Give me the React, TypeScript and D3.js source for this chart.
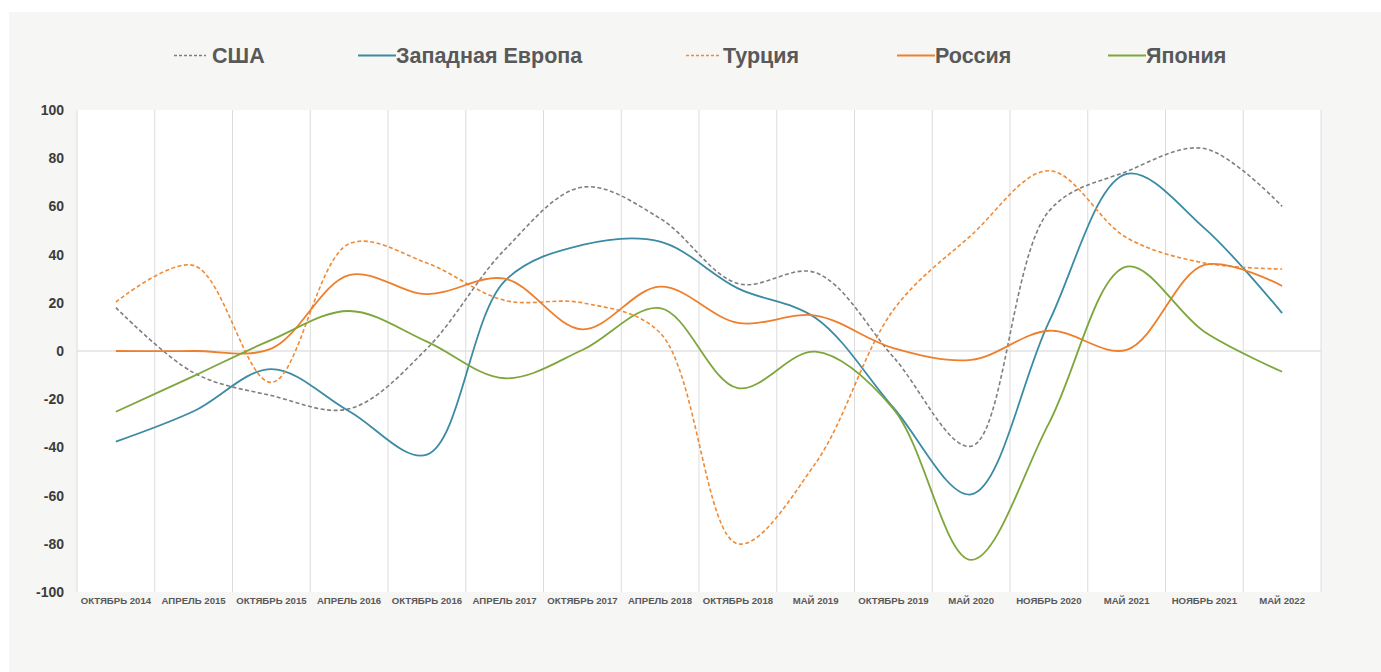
import React from "react";
import * as d3 from "d3";

const categories = [
  "ОКТЯБРЬ 2014", "АПРЕЛЬ 2015", "ОКТЯБРЬ  2015", "АПРЕЛЬ 2016", "ОКТЯБРЬ 2016",
  "АПРЕЛЬ 2017", "ОКТЯБРЬ 2017", "АПРЕЛЬ 2018", "ОКТЯБРЬ 2018", "МАЙ 2019",
  "ОКТЯБРЬ 2019", "МАЙ 2020", "НОЯБРЬ 2020", "МАЙ 2021", "НОЯБРЬ 2021", "МАЙ 2022",
];

const usa = [18, -9, -18.5, -24, 1, 42, 68, 55, 28, 32.5, -2.5, -39.5, 58, 74.5, 84, 60];
const westEurope = [-37.6, -25, -7.5, -25, -43, 29, 44, 45.4, 26, 13.7, -23.5, -59.5, 12, 73.5, 51, 15.7];
const turkey = [20.3, 35.5, -13, 44.5, 36.5, 21, 20, 7.5, -80, -46.5, 17, 48, 74.8, 47, 36.5, 34];
const russia = [0, 0, 1, 31.5, 23.6, 30, 9, 26.7, 11.7, 14.7, 1.2, -3.7, 8.4, 0.5, 35.7, 27];
const japan = [-25.2, -10.4, 4.6, 16.6, 3.9, -11.3, 0.4, 17.8, -15.4, -0.3, -24, -86.7, -30, 35, 8, -8.6];

const yTicks = [100, 80, 60, 40, 20, 0, -20, -40, -60, -80, -100];

const seriesNames = ["США", "Западная Европа", "Турция", "Россия", "Япония"];

const series = [
  { name: seriesNames[0], values: usa, color: "#7f7f7f", dash: "4,2.5", width: 1.6 },
  { name: seriesNames[1], values: westEurope, color: "#3a8ba3", dash: null, width: 1.8 },
  { name: seriesNames[2], values: turkey, color: "#f08a34", dash: "4,2.5", width: 1.6 },
  { name: seriesNames[3], values: russia, color: "#ee7f2d", dash: null, width: 1.8 },
  { name: seriesNames[4], values: japan, color: "#7ea63c", dash: null, width: 1.8 },
];

const legendPos = [
  { lx0: 174, lx1: 206, tx: 212 },
  { lx0: 358, lx1: 396, tx: 396 },
  { lx0: 686, lx1: 719, tx: 723 },
  { lx0: 897, lx1: 935, tx: 935 },
  { lx0: 1108, lx1: 1146, tx: 1146 },
];

export default function App() {
  const W = 1381;
  const H = 672;
  const left = 77, right = 1321, top = 110, bottom = 592;

  const x = d3.scaleBand<string>().domain(categories).range([left, right]).padding(0);
  const y = d3.scaleLinear().domain([-100, 100]).range([bottom, top]);
  const cx = (c: string) => (x(c) as number) + x.bandwidth() / 2;

  const line = d3
    .line<number>()
    .x((_, i) => cx(categories[i]))
    .y((d) => y(d))
    .curve(d3.curveCatmullRom.alpha(0.5));

  const gridXs = categories.map((c) => (x(c) as number) + x.bandwidth());

  const font = "'Liberation Sans', Arial, Helvetica, sans-serif";

  return (
    <svg
      width={W}
      height={H}
      style={{ position: "absolute", left: 0, top: 0, display: "block" }}
    >
      <rect x={0} y={0} width={W} height={H} fill="#ffffff" />
      <rect x={9} y={12} width={W - 9} height={H - 12} fill="#f6f6f4" />
      <rect x={left} y={top} width={right - left} height={bottom - top} fill="#ffffff" />

      {/* vertical gridlines */}
      <line x1={left} x2={left} y1={top} y2={bottom} stroke="#dcdcdc" strokeWidth={1} />
      {gridXs.map((gx, i) => (
        <line key={i} x1={gx} x2={gx} y1={top} y2={bottom} stroke="#dcdcdc" strokeWidth={1} />
      ))}
      {/* zero line */}
      <line x1={left} x2={right} y1={y(0)} y2={y(0)} stroke="#e2e2e2" strokeWidth={1.5} />

      {/* y tick labels */}
      {yTicks.map((t) => (
        <text
          key={t}
          x={64}
          y={y(t) + 5}
          textAnchor="end"
          fontFamily={font}
          fontWeight="bold"
          fontSize={14}
          fill="#3c3c3c"
        >
          {t}
        </text>
      ))}

      {/* x labels */}
      {categories.map((c) => (
        <text
          key={c}
          x={cx(c)}
          y={603.5}
          textAnchor="middle"
          fontFamily={font}
          fontWeight="bold"
          fontSize={9.6}
          fill="#595959"
        >
          {c}
        </text>
      ))}

      {/* series */}
      {series.map((s) => (
        <path
          key={s.name}
          d={line(s.values) || ""}
          fill="none"
          stroke={s.color}
          strokeWidth={s.width}
          strokeDasharray={s.dash || undefined}
          strokeLinejoin="round"
        />
      ))}

      {/* legend */}
      {series.map((s, i) => (
        <g key={"lg" + s.name}>
          <line
            x1={legendPos[i].lx0}
            x2={legendPos[i].lx1}
            y1={55.5}
            y2={55.5}
            stroke={s.color}
            strokeWidth={s.dash ? 1.4 : 2}
            strokeDasharray={s.dash ? "3,2" : undefined}
          />
          <text
            x={legendPos[i].tx}
            y={62.5}
            fontFamily={font}
            fontWeight="bold"
            fontSize={21.5}
            fill="#595959"
          >
            {s.name}
          </text>
        </g>
      ))}
    </svg>
  );
}
